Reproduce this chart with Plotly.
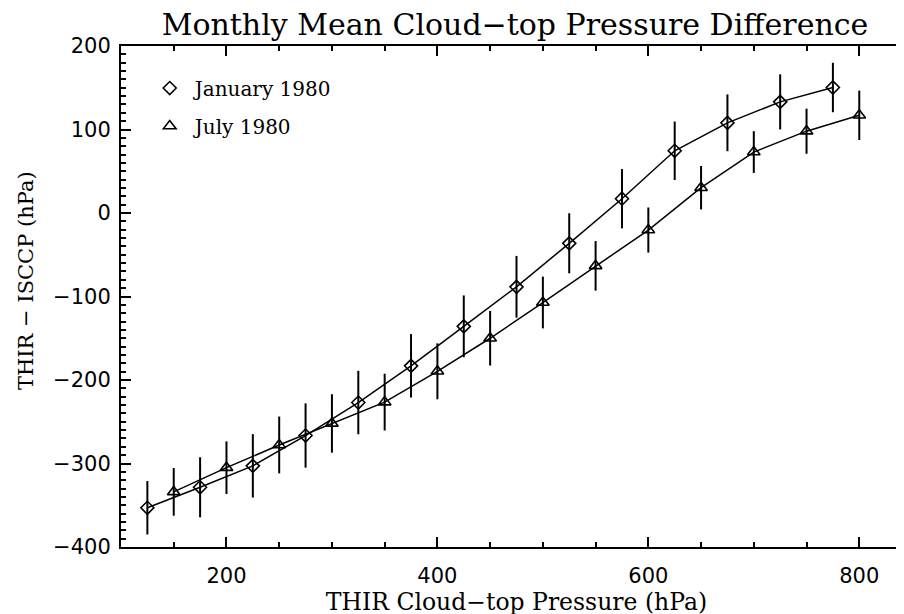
import plotly.graph_objects as go

# ---- data ----
jan_x = [125, 175, 225, 275, 325, 375, 425, 475, 525, 575, 625, 675, 725, 775]
jan_y = [-353, -328.5, -302.8, -266.5, -227, -183, -135.7, -88.4, -36.3, 17.1, 74.5, 108, 133.1, 150.3]
jan_err = [32, 36, 38, 38.5, 38, 38, 37, 37, 36, 35.5, 35, 34, 33, 29.6]

jul_x = [150, 200, 250, 300, 350, 400, 450, 500, 550, 600, 650, 700, 750, 800]
jul_y = [-334, -305, -277.8, -252, -226.5, -189.6, -150, -107.2, -63.3, -20.4, 30.3, 73, 98, 117]
jul_err = [28.5, 31.5, 34, 35, 34, 33.5, 32.7, 31, 29.7, 27, 26, 25, 27, 29.6]

series_names = ["January 1980", "July 1980"]
title_text = "Monthly Mean Cloud\u2212top Pressure Difference"
x_title = "THIR Cloud\u2212top Pressure (hPa)"
y_title = "THIR \u2212 ISCCP (hPa)"

SERIF = "DejaVu Serif"
SANS = "DejaVu Sans"

# the page body has an 8px margin, so the figure is drawn from (8, 8)
OFF = 8
W, H = 904, 614

fig = go.Figure()

def add_series(x, y, err, symbol, size, name, grp):
    mk = dict(symbol=symbol, size=size, color="black", line=dict(color="black", width=1.6))
    fig.add_trace(go.Scatter(
        x=x, y=y, mode="lines+markers",
        line=dict(color="black", width=1.5),
        marker=mk,
        error_y=dict(type="data", array=err, visible=True,
                     color="black", thickness=2, width=0),
        showlegend=False, hoverinfo="skip"))
    # legend entry: marker only
    fig.add_trace(go.Scatter(
        x=[None], y=[None], mode="markers", name=name, legendgroup=grp,
        marker=mk))

add_series(jan_x, jan_y, jan_err, "diamond-open", 10, series_names[0], "a")
add_series(jul_x, jul_y, jul_err, "triangle-up-open", 11, series_names[1], "b")

plot_left, plot_right, plot_top, plot_bottom = 121, 912, 46, 547  # page pixels

fig.update_layout(
    width=W, height=H,
    margin=dict(l=plot_left - OFF, r=W + OFF - plot_right, t=plot_top - OFF, b=H + OFF - plot_bottom),
    paper_bgcolor="white", plot_bgcolor="white",
    title=dict(text=title_text, x=(515 - OFF) / W, xref="container", xanchor="center",
               y=1 - (24 - OFF) / H, yref="container", yanchor="middle",
               font=dict(family=SERIF, size=30, color="black"), automargin=False),
    legend=dict(x=0.03, y=0.955, xanchor="left", yanchor="top",
                font=dict(family=SERIF, size=20, color="black"),
                bgcolor="rgba(0,0,0,0)", tracegroupgap=9, itemwidth=40),
    xaxis=dict(range=[100, 850], showgrid=False, zeroline=False, automargin=False,
               showline=True, linecolor="black", linewidth=2, mirror="allticks",
               ticks="inside", ticklen=10, tickwidth=1.5, tickcolor="black",
               tick0=0, dtick=200,
               minor=dict(ticks="inside", ticklen=5, tickwidth=1.5, tickcolor="black", dtick=50, tick0=0),
               tickfont=dict(family=SANS, size=21, color="black"),
               ticklabelstandoff=9,
               title=dict(text=x_title, font=dict(family=SERIF, size=23.5, color="black"), standoff=0)),
    yaxis=dict(range=[-400, 200], showgrid=False, zeroline=False, automargin=False,
               showline=True, linecolor="black", linewidth=2, mirror="allticks",
               ticks="inside", ticklen=10, tickwidth=1.5, tickcolor="black",
               tick0=0, dtick=100,
               minor=dict(ticks="inside", ticklen=5, tickwidth=1.5, tickcolor="black", dtick=10, tick0=0),
               tickfont=dict(family=SANS, size=21, color="black"),
               ticklabelstandoff=4,
               tickformat="d"),
    annotations=[dict(text=y_title, textangle=-90, xref="paper", yref="paper",
                      x=(26 - plot_left) / (plot_right - plot_left),
                      y=(plot_bottom - 281) / (plot_bottom - plot_top), showarrow=False,
                      xanchor="center", yanchor="middle",
                      font=dict(family=SERIF, size=21, color="black"))],
)

fig.write_html("out.html")
